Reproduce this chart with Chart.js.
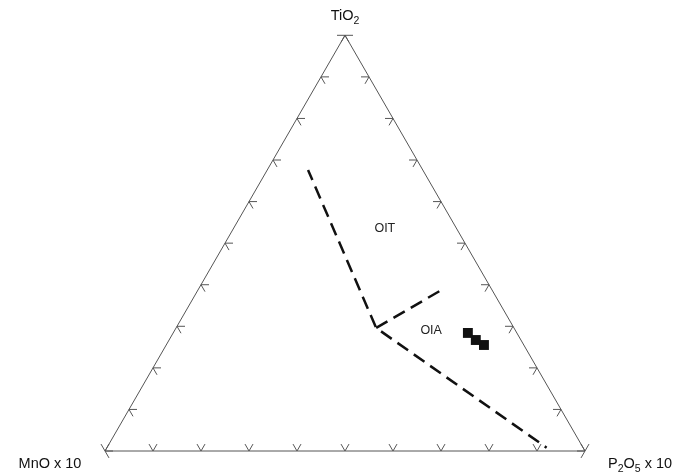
<!DOCTYPE html>
<html>
<head>
<meta charset="utf-8">
<script src="https://cdn.jsdelivr.net/npm/chart.js@4"></script>
<style>
html,body{margin:0;padding:0;background:#fff;}
#wrap{width:689px;height:474px;}
</style>
</head>
<body>
<div id="wrap"><canvas id="c" width="689" height="474"></canvas></div>
<script>
// Ternary components (percent): MnO x 10, TiO2, P2O5 x 10
const sampleMnO  = [10.2, 9.4, 8.3];
const sampleTiO2 = [28.4, 26.7, 25.5];
const sampleP2O5 = [61.4, 63.9, 66.2];

// Field boundaries (dashed), as ternary points
const boundary1MnO  = [23.9, 28.7, 7.6];
const boundary1TiO2 = [67.6, 29.6, 0.8];
const boundary1P2O5 = [8.5, 41.7, 91.6];
const boundary2MnO  = [28.7, 11.0];
const boundary2TiO2 = [29.6, 38.5];
const boundary2P2O5 = [41.7, 50.5];

// Field labels
const fieldNames = ['OIT', 'OIA'];
const fieldMnO  = [15.0, 17.6];
const fieldTiO2 = [53.4, 28.9];
const fieldP2O5 = [31.6, 53.5];

const tickValues = [0,10,20,30,40,50,60,70,80,90,100];
const apexNames = [['TiO','2',''], ['MnO x 10','',''], ['P','2','O','5',' x 10']];

const H = Math.sqrt(3)/2*100;
function tern(m,t,p){ const s=m+t+p; t=t/s*100; p=p/s*100; return {x: p + t/2, y: t*Math.sqrt(3)/2}; }
function pts(M,T,P){ return M.map((m,i)=>tern(m,T[i],P[i])); }

const outline = [tern(100,0,0), tern(0,0,100), tern(0,100,0), tern(100,0,0)];

const ternPlugin = {
  id:'tern',
  afterDatasetsDraw(chart){
    const ctx = chart.ctx, xs = chart.scales.x, ys = chart.scales.y;
    const px = p => ({x: xs.getPixelForValue(p.x), y: ys.getPixelForValue(p.y)});
    ctx.save();
    // ticks
    ctx.strokeStyle = '#555'; ctx.lineWidth = 1;
    const L = 8;
    const edges = [
      {f: v => tern(100-v,0,v), a:[60,120]},   // bottom
      {f: v => tern(100-v,v,0), a:[0,-60]},    // left
      {f: v => tern(0,v,100-v), a:[180,240]}   // right
    ];
    edges.forEach(e=>{
      tickValues.forEach(v=>{
        const p = px(e.f(v));
        e.a.forEach(ang=>{
          const r = ang*Math.PI/180;
          ctx.beginPath();
          ctx.moveTo(p.x, p.y);
          ctx.lineTo(p.x + L*Math.cos(r), p.y - L*Math.sin(r));
          ctx.stroke();
        });
      });
    });
    // field labels
    ctx.fillStyle = '#222';
    ctx.font = '12.5px "Liberation Sans", Arial, sans-serif';
    ctx.textAlign = 'center'; ctx.textBaseline = 'middle';
    fieldNames.forEach((n,i)=>{
      const p = px(tern(fieldMnO[i], fieldTiO2[i], fieldP2O5[i]));
      ctx.fillText(n, p.x, p.y);
    });
    // apex labels with subscripts
    function drawParts(parts, cx, baseY){
      const big = '14.5px "Liberation Sans", Arial, sans-serif';
      const small = '10.5px "Liberation Sans", Arial, sans-serif';
      let w = 0;
      parts.forEach((s,i)=>{ ctx.font = (i%2===1)?small:big; w += ctx.measureText(s).width; });
      let x = cx - w/2;
      ctx.textAlign='left'; ctx.textBaseline='alphabetic';
      parts.forEach((s,i)=>{
        const sub = i%2===1;
        ctx.font = sub?small:big;
        ctx.fillText(s, x, baseY + (sub?4:0));
        x += ctx.measureText(s).width;
      });
    }
    const top = px(tern(0,100,0)), bl = px(tern(100,0,0)), br = px(tern(0,0,100));
    ctx.fillStyle = '#111';
    drawParts(apexNames[0], top.x, top.y - 15);
    drawParts(apexNames[1], bl.x - 55, bl.y + 17);
    drawParts(apexNames[2], br.x + 55, br.y + 17);
    ctx.restore();
  }
};

new Chart(document.getElementById('c'), {
  type: 'scatter',
  data: {
    datasets: [
      {data: outline, showLine: true, borderColor:'#555', borderWidth:1, pointRadius:0, clip:false, order:3},
      {data: pts(boundary1MnO, boundary1TiO2, boundary1P2O5), showLine:true, borderColor:'#111', borderWidth:2.5, borderDash:[13,7], borderDashOffset:2, pointRadius:0, clip:false, order:2},
      {data: pts(boundary2MnO, boundary2TiO2, boundary2P2O5), showLine:true, borderColor:'#111', borderWidth:2.5, borderDash:[13,7], pointRadius:0, clip:false, order:2},
      {data: pts(sampleMnO, sampleTiO2, sampleP2O5), pointStyle:'rect', pointRadius:7, backgroundColor:'#111', borderColor:'#111', borderWidth:0, clip:false, order:1}
    ]
  },
  options: {
    responsive:false, animation:false, maintainAspectRatio:false,
    layout:{padding:{left:105, right:104, top:474-23-480*Math.sqrt(3)/2, bottom:23}},
    plugins:{legend:{display:false}, tooltip:{enabled:false}},
    scales:{
      x:{type:'linear', min:0, max:100, display:false},
      y:{type:'linear', min:0, max:H, display:false}
    }
  },
  plugins:[ternPlugin]
});
</script>
</body>
</html>
